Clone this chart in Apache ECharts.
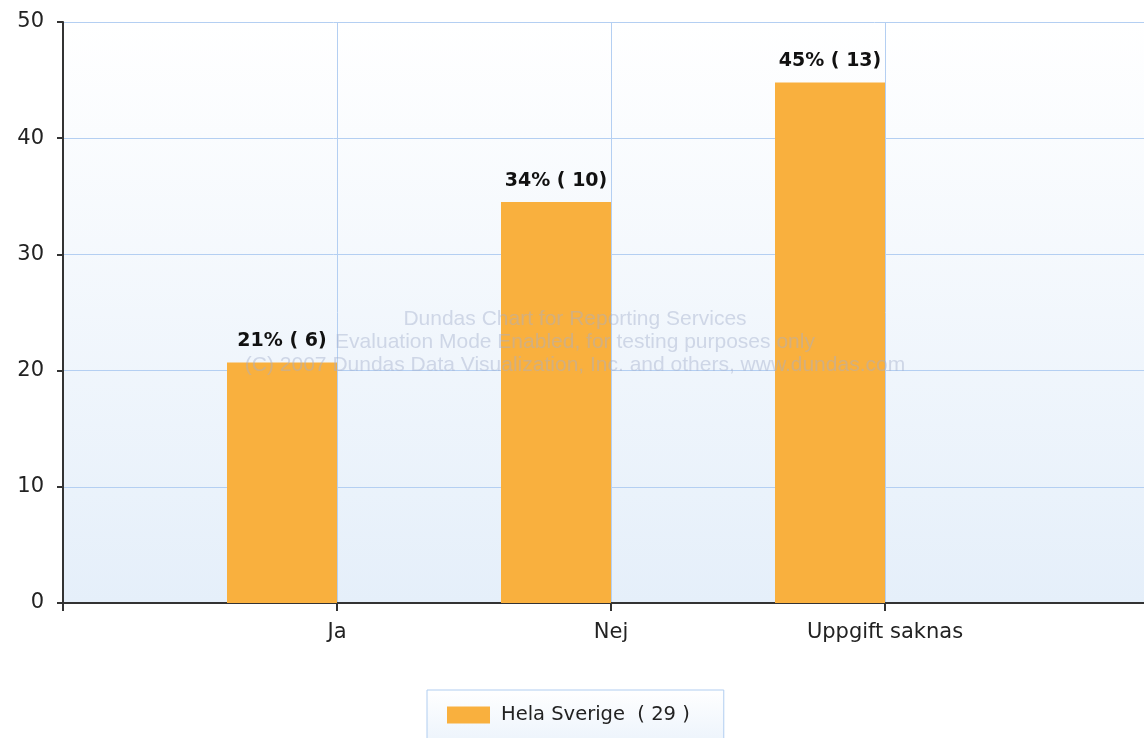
<html>
    <head>
        <meta charset="utf-8">
        <title>Hela Sverige</title>
        <script src="https://cdn.jsdelivr.net/npm/echarts@6/dist/echarts.min.js"></script>
    </head>
    <body style="margin:0">
        <style>
            html, body, #main {
                width: 100%;
                height: 100%;
                background: #fff;
            }
        </style>
        <div id="main"></div>
        <script>
            var categories = ['Ja', 'Nej', 'Uppgift saknas'];
            var percents = [20.7, 34.5, 44.8];
            var counts = [6, 10, 13];
            var seriesName = 'Hela Sverige';
            var yTicks = [0, 10, 20, 30, 40, 50];

            var total = counts.reduce(function (a, b) { return a + b; }, 0);

            // empty slot at each end so the ticks sit on the category lines
            var axisData = [''].concat(categories, ['']);
            var barData = [null].concat(percents.map(function (p, i) {
                return { value: p, count: counts[i] };
            }), [null]);

            var chart = echarts.init(document.getElementById('main'));

            chart.setOption({
                animation: false,
                textStyle: { fontFamily: 'DejaVu Sans' },
                grid: {
                    left: 63,
                    top: 22,
                    right: -15,
                    bottom: 135,
                    outerBoundsMode: 'none',
                    show: true,
                    borderWidth: 0,
                    backgroundColor: new echarts.graphic.LinearGradient(0, 0, 0, 1, [
                        { offset: 0, color: '#ffffff' },
                        { offset: 1, color: '#e5effa' }
                    ])
                },
                legend: {
                    data: [seriesName],
                    top: 690,
                    left: 427,
                    icon: 'rect',
                    itemWidth: 43,
                    itemHeight: 17,
                    padding: [15, 34, 30, 20],
                    borderColor: '#b0cdf0',
                    borderWidth: 1,
                    backgroundColor: new echarts.graphic.LinearGradient(0, 0, 0, 1, [
                        { offset: 0, color: '#ffffff' },
                        { offset: 1, color: '#e8f1fb' }
                    ]),
                    formatter: function (name) {
                        return name + '  ( ' + total + ' )';
                    },
                    textStyle: { fontSize: 19.5, color: '#222', padding: [0, 0, 0, 6] }
                },
                xAxis: {
                    type: 'category',
                    data: axisData,
                    boundaryGap: false,
                    axisLine: { lineStyle: { color: '#333', width: 2 } },
                    axisTick: { interval: 0, length: 8, lineStyle: { color: '#333', width: 2 } },
                    axisLabel: { interval: 0, margin: 19, fontSize: 21, color: '#222' },
                    splitLine: { show: true, interval: 0, lineStyle: { color: '#b4cff2', width: 1 } }
                },
                yAxis: {
                    type: 'value',
                    min: yTicks[0],
                    max: yTicks[yTicks.length - 1],
                    interval: 10,
                    axisLine: { show: true, lineStyle: { color: '#333', width: 2 } },
                    axisTick: { show: true, length: 6, lineStyle: { color: '#333', width: 2 } },
                    axisLabel: { margin: 19, fontSize: 21, color: '#222' },
                    splitLine: { lineStyle: { color: '#b4cff2', width: 1 } }
                },
                graphic: [{
                    type: 'text',
                    x: 575,
                    y: 308,
                    z: 100,
                    silent: true,
                    style: {
                        text: 'Dundas Chart for Reporting Services\nEvaluation Mode Enabled, for testing purposes only\n(C) 2007 Dundas Data Visualization, Inc. and others, www.dundas.com',
                        align: 'center',
                        verticalAlign: 'top',
                        fontFamily: 'Liberation Sans',
                        fontSize: 21,
                        lineHeight: 23,
                        fill: 'rgba(165,175,205,0.45)'
                    }
                }],
                series: [{
                    name: seriesName,
                    type: 'bar',
                    data: barData,
                    barWidth: 110,
                    barGap: '0%',
                    itemStyle: { color: '#f9b03e' },
                    label: {
                        show: true,
                        position: 'top',
                        distance: 12,
                        fontSize: 19,
                        fontWeight: 'bold',
                        color: '#111',
                        formatter: function (p) {
                            return Math.round(p.data.count / total * 100) + '% ( ' + p.data.count + ')';
                        }
                    }
                }, {
                    name: 'spacer',
                    type: 'bar',
                    data: [],
                    barWidth: 110
                }]
            });

            window.addEventListener('resize', function () {
                chart.resize();
            });
        </script>
    </body>
</html>
